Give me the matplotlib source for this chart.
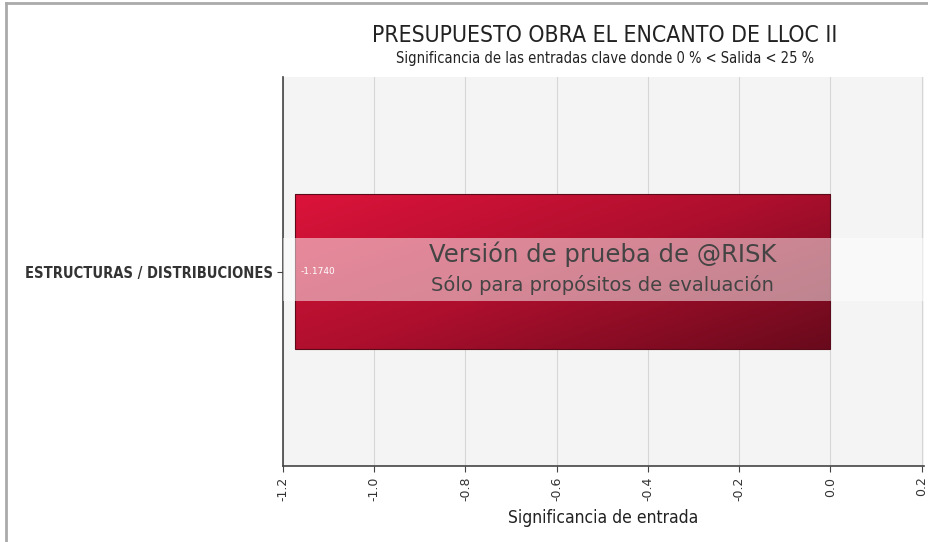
import numpy as np
import matplotlib
matplotlib.use('Agg')
import matplotlib.pyplot as plt
from matplotlib.colors import LinearSegmentedColormap
from matplotlib.patches import Rectangle
from matplotlib.lines import Line2D

plt.rcParams['font.family'] = ['DejaVu Sans']
NARROW = dict(family=['DejaVu Sans'], stretch='condensed')

categories = ['ESTRUCTURAS / DISTRIBUCIONES']
values = [-1.1740]
xticks = [-1.2, -1.0, -0.8, -0.6, -0.4, -0.2, 0.0, 0.2]
title = 'PRESUPUESTO OBRA EL ENCANTO DE LLOC II'
subtitle = 'Significancia de las entradas clave donde 0 % < Salida < 25 %'

fig = plt.figure(figsize=(9.29, 5.42), dpi=100)
ax = fig.add_axes([0.3046, 0.140, 0.69, 0.718])
ax.set_facecolor('#f4f4f4')

# gradient bars (crimson top-left -> dark maroon bottom-right)
cmap = LinearSegmentedColormap.from_list('bar', ['#dc133b', '#ad0f2d', '#690a1c'])
gx, gy = np.meshgrid(np.linspace(0, 1, 200), np.linspace(0, 1, 60))
grad = 0.55 * gx + 0.45 * gy
bh = 0.4
for i, v in enumerate(values):
    y0 = i - bh / 2
    im = ax.imshow(grad, cmap=cmap, extent=(v, 0, y0, y0 + bh), origin='upper',
                   aspect='auto', zorder=2)
    rect = Rectangle((v, y0), -v, bh, facecolor='none', edgecolor='#5a0a18',
                     linewidth=0.8, zorder=3)
    ax.add_patch(rect)
    im.set_clip_path(rect)
    ax.text(v + 0.012, i, f'{v:.4f}', color='white', fontsize=6.5,
            va='center', ha='left', zorder=5)
ax.set_aspect('auto')
ax.set_xlim(-1.2, 0.205)
ax.set_ylim(-0.5, 0.5)

# watermark band
ax.axhspan(-0.075, 0.085, color='white', alpha=0.5, lw=0, zorder=4)
ax.text(-0.5, 0.045, 'Versión de prueba de @RISK', fontsize=17.5, color='#444444',
        ha='center', va='center', zorder=6)
ax.text(-0.5, -0.035, 'Sólo para propósitos de evaluación', fontsize=14,
        color='#444444', ha='center', va='center', zorder=6)

ax.set_xticks(xticks)
ax.set_xticklabels([f'{t:.1f}' for t in xticks], rotation=90, fontsize=9)
ax.set_yticks(range(len(categories)))
ax.set_yticklabels(categories, fontsize=10.5, fontweight='bold', color='#333333', **NARROW)
ax.grid(axis='x', color='#d6d6d6', linewidth=0.8, zorder=1)
ax.set_axisbelow(True)
ax.tick_params(axis='both', length=4, color='#444444', labelcolor='#333333')
for s in ['top', 'right']:
    ax.spines[s].set_visible(False)
for s in ['left', 'bottom']:
    ax.spines[s].set_color('#444444')
    ax.spines[s].set_linewidth(1.2)
ax.set_xlabel('Significancia de entrada', fontsize=12.5, color='#222222', labelpad=6, **NARROW)

fig.text(0.651, 0.935, title, ha='center', va='center', fontsize=16.5, color='#222222', **NARROW)
fig.text(0.651, 0.892, subtitle, ha='center', va='center', fontsize=10.5, color='#222222', **NARROW)

# outer frame of the screenshot
fig.add_artist(Line2D([0.006, 0.006], [0, 0.995], color='#aaaaaa', lw=2, transform=fig.transFigure))
fig.add_artist(Line2D([0.006, 1.0], [0.995, 0.995], color='#aaaaaa', lw=2, transform=fig.transFigure))

fig.savefig('out.png', dpi=100)
